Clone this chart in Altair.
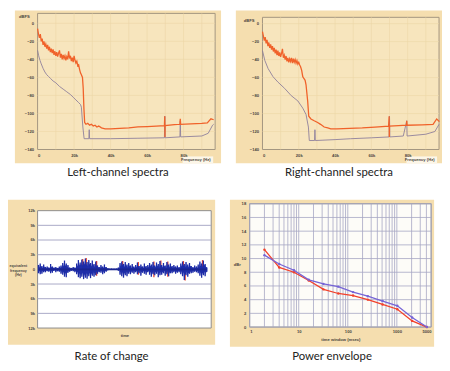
import altair as alt
import pandas as pd

# ---------------- data ----------------
# Left-channel spectra (frequency in kHz, level in dBFS)
l_or_f = [0, 0.5, 1.0, 1.5, 2.0, 2.5, 3.0, 3.5, 4.0, 4.5, 5.0, 5.5, 6.0, 6.5, 7.0, 7.5, 8.0, 8.5,
          9.0, 9.5, 10.0, 10.5, 11.0, 11.5, 12.0, 12.5, 13.0, 13.5, 14.0, 14.5, 15.0, 15.5, 16.0,
          16.5, 17.0, 17.5, 18.0, 18.5, 19.0, 19.5, 20.0, 20.5, 21.0, 21.5, 22.0, 22.5, 23.0, 23.5,
          24.0, 24.6, 25.0, 25.4, 25.8, 26.5, 27.5, 28.5, 29.5, 30.5, 31.5, 32.5, 33.5, 35, 37, 40,
          45, 50, 55, 60, 65, 69.5, 69.7, 69.8, 69.9, 75, 78, 78.2, 78.4, 84, 90, 93, 95, 96.5]
l_or_db = [-6, -12, -16, -12, -20, -17, -24, -20, -26, -23, -28, -24, -30, -26, -32, -28, -33, -29,
           -35, -31, -36, -32, -37, -33, -30, -38, -34, -40, -35, -39, -36, -41, -37,
           -40, -31, -39, -36, -42, -38, -43, -36, -41, -44, -42, -47, -46, -51, -55,
           -57, -60, -72, -95, -110, -112, -111, -113, -112, -114, -113, -115, -114, -116, -117, -117,
           -116.5, -116, -115, -114.5, -114, -113.5, -103, -126, -113.5, -112.5, -112, -106, -112,
           -111.5, -111, -110.5, -106, -107]
l_gr_f = [0, 0.6, 1.3, 2.0, 3.0, 4.0, 5.0, 6.0, 7.0, 8.5, 10, 12, 14, 16, 18, 19.5, 21, 22.5, 23.5,
          24.0, 24.8, 25.5, 28.1, 28.3, 28.5, 40, 55, 69.5, 69.7, 69.9, 78.0, 78.2, 78.4, 90, 93.5, 95.9, 96.5]
l_gr_db = [-30, -36, -41, -45, -50, -54, -57, -59, -61, -64, -66, -70, -73, -76, -79, -82, -85, -88, -90,
           -93, -115, -128, -128, -118, -128, -128, -127.5, -127, -103, -127, -126, -108, -126, -125, -122, -113, -112]

# Right-channel spectra
r_or_f = [0, 0.5, 1.0, 1.5, 2.0, 2.5, 3.0, 3.5, 4.0, 4.5, 5.0, 5.5, 6.0, 6.5, 7.0, 7.5, 8.0, 8.5,
          9.0, 9.5, 10.0, 10.5, 11.0, 11.5, 12.0, 12.5, 13.0, 13.5, 14.0, 14.5, 15.0, 15.5, 16.0,
          16.5, 17.0, 17.5, 18.0, 18.5, 19.0, 19.5, 20.0, 20.5, 21.0, 21.6, 22.2, 22.8, 23.5, 24.0,
          24.9, 25.5, 26.7, 28.5, 30.4, 32, 34, 36, 37.6, 41, 48, 55, 62, 69.5, 69.8, 69.9, 70.0,
          75, 79.3, 79.5, 79.7, 88, 94, 96, 97.5]
r_or_db = [-9, -14, -19, -15, -22, -18, -25, -21, -27, -23, -29, -25, -31, -27, -33, -29, -35, -30,
           -36, -32, -37, -33, -28, -38, -35, -40, -36, -42, -38, -43, -39, -42, -38,
           -44, -39, -43, -40, -44, -41, -45, -43, -46, -48, -52, -59, -61, -63, -68,
           -86, -103, -106, -108, -110, -112, -115, -116, -117, -117, -116.5, -116, -115, -114, -103,
           -126, -114, -113.5, -113, -108, -113, -112.5, -112, -106, -109]
r_gr_f = [0, 1.3, 3.1, 5.8, 8.5, 12.2, 15.8, 19.5, 22.2, 24.0, 25.3, 25.8, 28.7, 28.9, 29.1, 40, 48.5,
          60, 69.8, 70.0, 70.2, 77.6, 79.5, 79.7, 90, 95, 97.3]
r_gr_db = [-30, -41, -50, -59, -65, -72, -80, -86, -94, -101, -115, -130, -130, -118, -130, -129, -128,
           -127, -126, -103, -126, -125, -108, -125, -123, -120, -112]

# Rate of change (time index, upper / lower excursion in kHz)
roc_t = [i * 0.5 for i in range(0, 195)]
roc_hi = [0.9, 0.4, 1.2, 0.5, 0.7, 0.3, 1.0, 0.4, 0.5, 0.2, 0.6, 0.3, 0.4, 0.2, 1.1, 0.4, 0.6, 0.3,
          0.4, 0.2, 0.5, 0.2, 0.3, 0.2, 0.6, 0.3, 0.8, 0.4, 1.3, 0.6, 1.8, 0.7, 1.2, 0.5, 0.9, 0.3,
          0.4, 0.2, 0.3, 0.1, 0.5, 0.2, 0.4, 0.2, 1.2, 0.6, 1.9, 0.8, 1.4, 0.9, 2.0, 0.8, 1.6, 1.0,
          2.2, 0.9, 1.5, 0.7, 1.9, 1.0, 1.3, 0.6, 1.8, 0.8, 1.1, 0.5, 1.6, 0.7, 0.8, 0.4, 0.5, 0.2,
          0.9, 0.4, 0.6, 0.3, 1.0, 0.4, 0.5, 0.2, 0.2, 0.1, 0.1, 0.05, 0.15, 0.05, 0.1, 0.05, 0.1, 0.05,
          0.15, 0.05, 0.4, 0.2, 1.3, 0.6, 1.6, 0.8, 1.1, 0.5, 1.5, 0.7, 1.0, 0.4, 1.3, 0.6, 0.8, 0.3,
          1.1, 0.5, 0.6, 0.3, 0.9, 0.4, 1.4, 0.6, 0.7, 0.3, 1.0, 0.5, 0.6, 0.3, 1.2, 0.5, 0.7, 0.3,
          0.9, 0.4, 1.3, 0.6, 1.0, 0.5, 1.5, 0.7, 0.8, 0.4, 1.4, 0.6, 1.1, 0.5, 1.7, 0.7, 0.9, 0.4,
          1.3, 0.6, 0.8, 0.3, 1.5, 0.7, 1.0, 0.4, 1.2, 0.5, 0.7, 0.3, 0.9, 0.4, 0.6, 0.3, 0.8, 0.3,
          0.5, 0.2, 1.2, 0.6, 1.6, 0.7, 1.1, 0.5, 1.5, 0.6, 1.0, 0.4, 1.3, 0.6, 0.7, 0.3, 0.5, 0.2,
          0.8, 0.3, 0.6, 0.3, 1.0, 0.5, 1.6, 0.7, 1.2, 0.5, 1.8, 0.8, 1.1, 0.5, 0.4]
roc_lo = [-0.8, -0.3, -1.0, -0.4, -0.9, -0.3, -0.6, -0.3, -0.6, -0.2, -0.4, -0.2, -0.5, -0.2, -0.8, -0.3, -0.7, -0.3,
          -0.3, -0.1, -0.6, -0.2, -0.4, -0.2, -0.5, -0.2, -0.9, -0.4, -1.1, -0.5, -1.5, -0.7, -1.6, -0.6, -0.7, -0.3,
          -0.5, -0.2, -0.3, -0.1, -0.4, -0.2, -0.6, -0.3, -1.0, -0.5, -1.6, -0.8, -1.8, -0.9, -1.5, -0.7, -2.0, -1.0,
          -1.7, -0.8, -1.9, -0.9, -1.4, -0.7, -1.8, -0.8, -1.3, -0.6, -1.5, -0.7, -1.2, -0.5, -0.9, -0.4, -0.6, -0.3,
          -0.7, -0.3, -1.0, -0.4, -0.8, -0.3, -0.5, -0.2, -0.2, -0.1, -0.1, -0.05, -0.1, -0.05, -0.15, -0.05, -0.1, -0.05,
          -0.1, -0.05, -0.3, -0.1, -1.1, -0.5, -1.4, -0.6, -1.7, -0.7, -1.2, -0.5, -1.4, -0.6, -0.9, -0.4, -1.0, -0.4,
          -0.7, -0.3, -0.9, -0.4, -0.6, -0.3, -1.0, -0.4, -0.8, -0.3, -1.3, -0.5, -0.7, -0.3, -0.9, -0.4, -1.1, -0.5,
          -0.6, -0.3, -1.1, -0.5, -1.5, -0.6, -1.0, -0.4, -1.2, -0.5, -0.9, -0.4, -1.6, -0.7, -1.2, -0.5, -1.1, -0.5,
          -0.8, -0.3, -1.3, -0.6, -1.0, -0.4, -1.4, -0.6, -0.8, -0.4, -0.8, -0.3, -0.6, -0.3, -0.9, -0.4, -0.7, -0.3,
          -0.6, -0.3, -1.0, -0.4, -1.4, -0.6, -2.2, -0.9, -1.2, -0.5, -1.5, -0.7, -0.9, -0.4, -0.8, -0.3, -0.7, -0.3,
          -0.5, -0.2, -0.6, -0.3, -0.8, -0.4, -1.3, -0.6, -1.7, -0.7, -1.2, -0.5, -1.4, -0.6, -0.5]
red_t = [25.5, 27.5, 33.5, 48.5, 57.5, 66.5, 70.5, 74.5, 83.5, 84.5, 94.5]
red_hi = [2.1, 2.3, 1.7, 1.7, 1.5, 1.6, 1.8, 1.6, 1.7, 0.4, 1.9]
red_lo = [-0.3, -0.4, -1.3, -0.3, -1.1, -1.6, -0.4, -1.5, -0.5, -2.3, -0.4]

# Power envelope
pe_x = [2, 4, 8, 16, 32, 64, 128, 256, 512, 1024, 2048, 4096]
pe_red = [11.3, 8.7, 8.0, 6.8, 5.5, 4.9, 4.6, 4.0, 3.3, 2.6, 0.9, 0.0]
pe_blue = [10.5, 9.2, 8.3, 6.9, 6.3, 5.9, 5.1, 4.5, 3.8, 3.1, 1.4, 0.0]

spec_x_ticks = [0, 20, 40, 60, 80]
spec_y_ticks = [0, -20, -40, -60, -80, -100, -120, -140]
roc_y_ticks = [-12, -9, -6, -3, 0, 3, 6, 9, 12]
pe_y_ticks = [0, 2, 4, 6, 8, 10, 12, 14, 16, 18]
pe_x_labels = [1, 10, 100, 1000, 5000]
pe_x_grid = [1, 2, 3, 4, 5, 6, 7, 8, 9, 10, 20, 30, 40, 50, 60, 70, 80, 90,
             100, 200, 300, 400, 500, 600, 700, 800, 900, 1000, 2000, 3000, 4000, 5000]

captions = ["Left-channel spectra", "Right-channel spectra", "Rate of change", "Power envelope"]

# ---------------- styling ----------------
BEIGE = "#f5deaf"
PLOT_BEIGE = "#f7e5bd"
ORANGE = "#f0622a"
GREYP = "#8e7f9c"
LBL = "#4a4540"
LFONT = "Liberation Sans"
CAP_FONT = "Lato"
FS = 4.2

one = pd.DataFrame({"a": [0]})


def box(l, r, t, b, fill, stroke="transparent", sw=0):
    return alt.Chart(one).mark_rect(fill=fill, stroke=stroke, strokeWidth=sw).encode(
        x=alt.value(l), x2=alt.value(r), y=alt.value(t), y2=alt.value(b))


def caption(text, offset=3):
    return alt.TitleParams(text, orient="bottom", anchor="middle", frame="bounds", font=CAP_FONT,
                           fontSize=11.5, fontWeight="normal", color="#222222", offset=offset)


def axis(**kw):
    base = dict(zindex=2, domain=False, ticks=False, grid=False, labelFontSize=FS, labelColor=LBL,
                labelFont=LFONT, labelFontWeight="bold", titleFontSize=FS, titleFont=LFONT,
                titleFontWeight="bold", titleColor=LBL)
    base.update(kw)
    return alt.Axis(**base)


def spectrum(of, odb, gf, gdb, w, h, top, bg, cap, ydom):
    # top: pixel offset of the plot frame's upper edge inside the row-aligned view
    xs = alt.Scale(domain=[0, 97.3], nice=False)
    ys = alt.Scale(domain=ydom, nice=False, range=[h, top])
    df_o = pd.DataFrame({"f": of, "db": odb})
    df_g = pd.DataFrame({"f": gf, "db": gdb})
    gx = pd.DataFrame({"f": [10, 20, 30, 40, 50, 60, 70, 80, 90]})
    gy = pd.DataFrame({"db": spec_y_ticks[:-1]})
    xax = axis(values=spec_x_ticks, labelExpr="datum.value == 0 ? '0' : datum.value + 'k'",
               title="Frequency (Hz)", titleX=w - 5, titleY=12,
               titleAlign="right", titleBaseline="bottom", labelPadding=4)
    yax = axis(values=spec_y_ticks, title="dBFS", titleAngle=0, titleX=-14, titleY=top + 3,
               titleAlign="center", titleBaseline="middle", labelPadding=4)
    back = box(bg[0], w + bg[1], bg[2], h + bg[3], BEIGE)
    plot = box(0, w, top, h, PLOT_BEIGE, "#a39580", 1)
    hz = box(w - 33, w - 2, h + 7, h + 14, "#fcf6e8")
    gridx = alt.Chart(gx).mark_rule(color="#ecd6a6", strokeWidth=0.6).encode(
        x=alt.X("f:Q", scale=xs, axis=xax), y=alt.value(top), y2=alt.value(h))
    gridy = alt.Chart(gy).mark_rule(color="#ecd6a6", strokeWidth=0.6).encode(
        y=alt.Y("db:Q", scale=ys, axis=yax))
    grey = alt.Chart(df_g).mark_line(color=GREYP, strokeWidth=0.9).encode(
        x=alt.X("f:Q", scale=xs, axis=xax), y=alt.Y("db:Q", scale=ys, axis=yax))
    orange = alt.Chart(df_o).mark_line(color=ORANGE, strokeWidth=1.3).encode(
        x=alt.X("f:Q", scale=xs, axis=xax), y=alt.Y("db:Q", scale=ys, axis=yax))
    return alt.layer(back, plot, hz, gridx, gridy, grey, orange).properties(
        width=w, height=h, title=caption(cap, 4))


# top-left / top-right (row origin at the right panel's top edge)
tl = spectrum(l_or_f, l_or_db, l_gr_f, l_gr_db, 180, 134, -4, (-23, 6, -7, 14), captions[0], [-140, 11])
tr = spectrum(r_or_f, r_or_db, r_gr_f, r_gr_db, 179, 134, 0, (-27, 3, -7, 14), captions[1], [-140, 7])

# bottom-left: rate of change
w3, h3 = 176, 119
xs3 = alt.Scale(domain=[-0.5, 99.5], nice=False)
ys3 = alt.Scale(domain=[-12, 12], nice=False)
xax3 = axis(labels=False, title="time", titlePadding=6)
yax3 = axis(values=roc_y_ticks, labelExpr="datum.value == 0 ? '0' : abs(datum.value) + 'k'",
            title=["equivalent", "frequency", "(Hz)"], titleAngle=0, titleX=-20,
            titleY=56, titleAlign="center", titleBaseline="middle", titleLineHeight=4.5,
            titleFontSize=3.6, labelPadding=3)
df_roc = pd.DataFrame({"t": roc_t, "hi": roc_hi, "lo": roc_lo})
df_red = pd.DataFrame({"t": red_t, "hi": red_hi, "lo": red_lo})
back3 = box(-30, w3 + 4, -11, h3 + 17, BEIGE)
plot3 = box(0, w3, 0, h3, "#ffffff", "#8c8c8c", 1)
grid3 = alt.Chart(pd.DataFrame({"hi": [-9, -6, -3, 3, 6, 9]})).mark_rule(
    color="#a9a9c6", strokeWidth=1).encode(y=alt.Y("hi:Q", scale=ys3, axis=yax3))
red3 = alt.Chart(df_red).mark_rule(color="#e8402a", strokeWidth=1.3).encode(
    x=alt.X("t:Q", scale=xs3, axis=xax3), y=alt.Y("hi:Q", scale=ys3, axis=yax3), y2="lo:Q")
core3 = alt.Chart(df_roc).mark_area(color="#1d2ca8", opacity=0.85).encode(
    x=alt.X("t:Q", scale=xs3, axis=xax3), y=alt.Y("hi:Q", scale=ys3, axis=yax3), y2="lo:Q")
wave = alt.Chart(df_roc).mark_rule(color="#1d2ca8", strokeWidth=1.3).encode(
    x=alt.X("t:Q", scale=xs3, axis=xax3), y=alt.Y("hi:Q", scale=ys3, axis=yax3), y2="lo:Q")
zero3 = alt.Chart(df_roc).mark_line(color="#1a2590", strokeWidth=1.8).encode(
    x=alt.X("t:Q", scale=xs3, axis=xax3), y=alt.value(h3 / 2))
bl = alt.layer(back3, plot3, grid3, red3, core3, wave, zero3).properties(
    width=w3, height=h3, title=caption(captions[2], 6))

# bottom-right: power envelope (plot area shifted 7px up inside its row)
w4, h4 = 184, 118
top4 = -7
xs4 = alt.Scale(type="log", domain=[1, 5000], nice=False)
ys4 = alt.Scale(domain=[0, 18], nice=False, range=[h4, top4])
xax4 = axis(values=pe_x_labels, labelExpr="format(datum.value, 'd')",
            title="time window (msec)", titlePadding=3, labelPadding=3)
yax4 = axis(values=pe_y_ticks, title="dBr", titleAngle=0, titleX=-13, titleY=55,
            titleAlign="center", titleBaseline="middle", labelPadding=4)
df_pe = pd.DataFrame({"x": pe_x * 2, "v": pe_red + pe_blue,
                      "s": ["red"] * len(pe_x) + ["blue"] * len(pe_x)})
back4 = box(-20, w4 + 3, -11, h4 + 20, BEIGE)
plot4 = box(0, w4, top4, h4, "#fdfcf8", "#8c8c8c", 1)
gx4 = alt.Chart(pd.DataFrame({"x": pe_x_grid})).mark_rule(color="#a6a6c4", strokeWidth=0.8).encode(
    x=alt.X("x:Q", scale=xs4, axis=xax4), y=alt.value(top4), y2=alt.value(h4))
gy4 = alt.Chart(pd.DataFrame({"v": pe_y_ticks})).mark_rule(color="#a6a6c4", strokeWidth=0.8).encode(
    y=alt.Y("v:Q", scale=ys4, axis=yax4))
lines4 = alt.Chart(df_pe).mark_line(strokeWidth=1.3, point=alt.OverlayMarkDef(size=6, filled=True)).encode(
    x=alt.X("x:Q", scale=xs4, axis=xax4),
    y=alt.Y("v:Q", scale=ys4, axis=yax4),
    color=alt.Color("s:N", scale=alt.Scale(domain=["red", "blue"], range=["#f2402a", "#7664d6"]),
                    legend=None),
    order=alt.Order("x:Q"))
br = alt.layer(back4, plot4, gx4, gy4, lines4).properties(
    width=w4, height=h4, title=caption(captions[3], 4))

chart = alt.vconcat(
    alt.hconcat(tl, tr, spacing=15),
    alt.hconcat(bl, br, spacing=15),
    spacing=21,
).properties(padding=0, background="#ffffff").configure_view(strokeWidth=0)

chart.save("out.html", embed_options={"renderer": "svg", "actions": False})
